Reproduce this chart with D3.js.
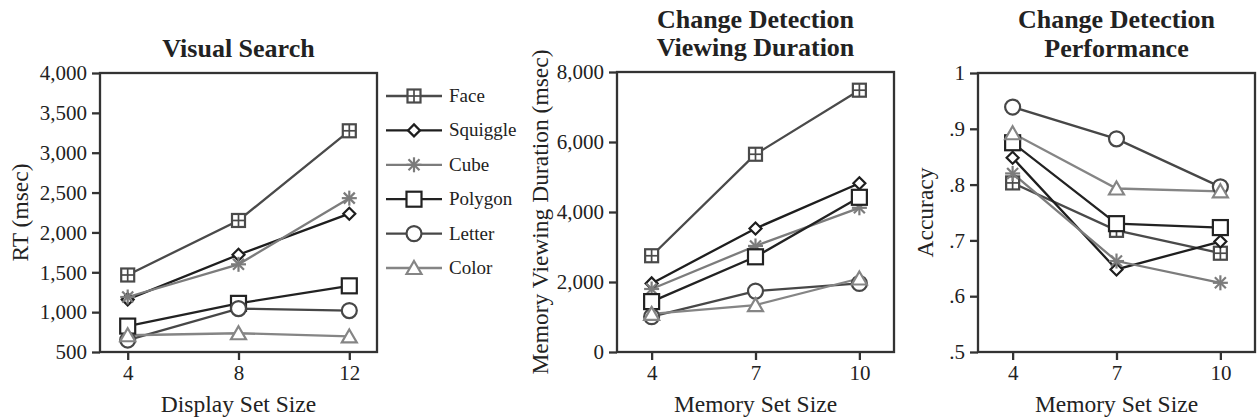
<!DOCTYPE html>
<html><head><meta charset="utf-8">
<script src="https://cdn.jsdelivr.net/npm/d3@7"></script>
<style>
body{margin:0;background:#fff;}
svg text{font-family:"Liberation Serif","Times New Roman",serif;fill:#222;}
</style></head>
<body><svg id="c" width="1257" height="419"></svg>
<script>
// ---- data ----
const seriesNames = ["Face","Squiggle","Cube","Polygon","Letter","Color"];
const seriesColors = ["#4a4a4a","#1e1e1e","#7c7c7c","#222222","#474747","#858585"];
const seriesMarkers = ["facebox","diamond","asterisk","square","circle","triangle"];

const vsSizes = [4,8,12];
const vsFace = [1466,2150,3275];
const vsSquiggle = [1160,1720,2235];
const vsCube = [1190,1600,2430];
const vsPolygon = [825,1110,1330];
const vsLetter = [650,1045,1020];
const vsColor = [710,735,695];
const vsTicks = [500,1000,1500,2000,2500,3000,3500,4000];

const cdSizes = [4,7,10];
const durFace = [2750,5650,7480];
const durSquiggle = [1960,3530,4820];
const durCube = [1800,3030,4120];
const durPolygon = [1440,2720,4420];
const durLetter = [1010,1740,1960];
const durColor = [1090,1340,2100];
const durTicks = [0,2000,4000,6000,8000];

const accFace = [0.803,0.718,0.677];
const accSquiggle = [0.848,0.648,0.698];
const accCube = [0.820,0.663,0.624];
const accPolygon = [0.875,0.730,0.723];
const accLetter = [0.939,0.882,0.796];
const accColor = [0.892,0.793,0.788];
const accTicks = [0.5,0.6,0.7,0.8,0.9,1.0];
const accTickLabels = [".5",".6",".7",".8",".9","1"];

const svg = d3.select("#c");
const FRAME = "#333";
const LW = 2.3;

function marker(g, type, x, y, color){
  const m = g.append("g").attr("transform",`translate(${x},${y})`)
    .attr("stroke",color).attr("stroke-width",2.2).attr("fill","#fff");
  if(type==="facebox"){
    m.append("rect").attr("x",-6.5).attr("y",-6.5).attr("width",13).attr("height",13);
    m.append("line").attr("x1",0).attr("x2",0).attr("y1",-6.5).attr("y2",6.5).attr("stroke-width",1.7);
    m.append("line").attr("x1",-6.5).attr("x2",6.5).attr("y1",0).attr("y2",0).attr("stroke-width",1.7);
  } else if(type==="diamond"){
    m.append("path").attr("d","M0,-6L6,0L0,6L-6,0Z");
  } else if(type==="asterisk"){
    const r=7.5, d=5.5;
    m.append("line").attr("x1",-r).attr("x2",r).attr("y1",0).attr("y2",0);
    m.append("line").attr("x1",0).attr("x2",0).attr("y1",-r).attr("y2",r);
    m.append("line").attr("x1",-d).attr("x2",d).attr("y1",-d).attr("y2",d);
    m.append("line").attr("x1",-d).attr("x2",d).attr("y1",d).attr("y2",-d);
  } else if(type==="square"){
    m.append("rect").attr("x",-7.5).attr("y",-7.5).attr("width",15).attr("height",15);
  } else if(type==="circle"){
    m.append("circle").attr("r",7.5);
  } else if(type==="triangle"){
    m.append("path").attr("d","M0,-7L7.5,6L-7.5,6Z");
  }
}

function panel(opt){
  const {left,right,top,bottom,xDomain,xTicks,yDomain,yTicks,yFmt,series,titles,titleBase,ylabel,ylabelX,xlabel} = opt;
  const x = d3.scaleLinear().domain(xDomain).range([left,right]);
  const y = d3.scaleLinear().domain(yDomain).range([bottom,top]);
  const g = svg.append("g");
  g.append("rect").attr("x",left).attr("y",top).attr("width",right-left).attr("height",bottom-top)
    .attr("fill","none").attr("stroke",FRAME).attr("stroke-width",LW);
  const ya = d3.axisLeft(y).tickValues(yTicks).tickFormat(yFmt).tickSize(8).tickPadding(5);
  const gy = g.append("g").attr("transform",`translate(${left},0)`).call(ya);
  const xa = d3.axisBottom(x).tickValues(xTicks).tickFormat(d3.format("d")).tickSize(8).tickPadding(5);
  const gx = g.append("g").attr("transform",`translate(0,${bottom})`).call(xa);
  [gy,gx].forEach(a=>{
    a.select(".domain").remove();
    a.selectAll(".tick line").attr("stroke",FRAME).attr("stroke-width",LW);
    a.selectAll(".tick text").attr("font-size",21).attr("fill","#222")
      .attr("font-family","Liberation Serif, Times New Roman, serif");
  });
  const line = d3.line().x(d=>x(d[0])).y(d=>y(d[1]));
  series.forEach((vals,i)=>{
    const pts = xTicks.map((s,j)=>[s,vals[j]]);
    g.append("path").datum(pts).attr("d",line).attr("fill","none")
      .attr("stroke",seriesColors[i]).attr("stroke-width",LW);
  });
  series.forEach((vals,i)=>{
    xTicks.forEach((s,j)=>marker(g,seriesMarkers[i],x(s),y(vals[j]),seriesColors[i]));
  });
  const cx=(left+right)/2;
  titles.forEach((t,k)=>{
    g.append("text").attr("x",cx).attr("y",titleBase[k]).attr("text-anchor","middle")
      .attr("font-size",26).attr("font-weight","bold").attr("fill","#222").text(t);
  });
  g.append("text").attr("transform",`translate(${ylabelX},${(top+bottom)/2}) rotate(-90)`)
    .attr("text-anchor","middle").attr("font-size",23.5).text(ylabel);
  g.append("text").attr("x",cx).attr("y",412).attr("text-anchor","middle")
    .attr("font-size",23.5).text(xlabel);
}

panel({left:100,right:377,top:73,bottom:352,xDomain:[3,13],xTicks:vsSizes,
  yDomain:[500,4000],yTicks:vsTicks,yFmt:d3.format(","),
  series:[vsFace,vsSquiggle,vsCube,vsPolygon,vsLetter,vsColor],
  titles:["Visual Search"],titleBase:[57],ylabel:"RT (msec)",ylabelX:28,xlabel:"Display Set Size"});

panel({left:617,right:894,top:72,bottom:352,xDomain:[3,11],xTicks:cdSizes,
  yDomain:[0,8000],yTicks:durTicks,yFmt:d3.format(","),
  series:[durFace,durSquiggle,durCube,durPolygon,durLetter,durColor],
  titles:["Change Detection","Viewing Duration"],titleBase:[28,56],
  ylabel:"Memory Viewing Duration (msec)",ylabelX:548,xlabel:"Memory Set Size"});

panel({left:978,right:1255,top:73,bottom:352,xDomain:[3,11],xTicks:cdSizes,
  yDomain:[0.5,1.0],yTicks:accTicks,yFmt:(d,i)=>accTickLabels[i],
  series:[accFace,accSquiggle,accCube,accPolygon,accLetter,accColor],
  titles:["Change Detection","Performance"],titleBase:[28,57],
  ylabel:"Accuracy",ylabelX:933,xlabel:"Memory Set Size"});

// legend
const lg = svg.append("g");
const legendY = d3.scalePoint().domain(seriesNames).range([96,268]);
seriesNames.forEach((n,i)=>{
  const yy = legendY(n);
  lg.append("line").attr("x1",386).attr("x2",442).attr("y1",yy).attr("y2",yy)
    .attr("stroke",seriesColors[i]).attr("stroke-width",LW);
  marker(lg,seriesMarkers[i],414,yy,seriesColors[i]);
  lg.append("text").attr("x",449).attr("y",yy+6).attr("font-size",19).text(n);
});
</script></body></html>
